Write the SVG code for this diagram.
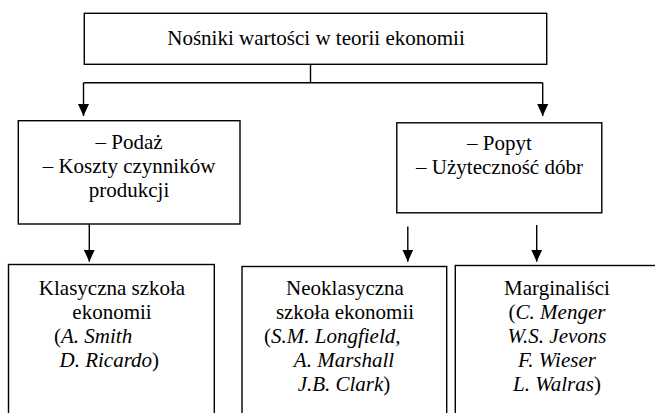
<svg xmlns="http://www.w3.org/2000/svg" width="655" height="413" viewBox="0 0 655 413">
<style>
.box{fill:#fff;stroke:#000;stroke-width:1.4}
.ln{fill:none;stroke:#000;stroke-width:1.4}
.t{font-family:'Liberation Serif','Times New Roman',Times,serif;font-size:21px;fill:#000}
.c{text-anchor:middle}
.i{font-style:italic}
</style>
<defs>
<marker id="ah" markerUnits="userSpaceOnUse" markerWidth="12" markerHeight="11" refX="12" refY="5.5" orient="auto" viewBox="0 0 12 11">
<path d="M0,0 L12,5.5 L0,11 z" fill="#000"/>
</marker>
</defs>
<g id="connectors">
<polyline class="ln" points="310.5,64 310.5,82.7"/>
<polyline class="ln" points="83.5,82.7 542.7,82.7"/>
<line class="ln" x1="83.5" y1="82.7" x2="83.5" y2="116" marker-end="url(#ah)"/>
<line class="ln" x1="542.7" y1="82.7" x2="542.7" y2="116" marker-end="url(#ah)"/>
<line class="ln" x1="89.3" y1="224" x2="89.3" y2="261.7" marker-end="url(#ah)"/>
<line class="ln" x1="407.8" y1="226.5" x2="407.8" y2="261.7" marker-end="url(#ah)"/>
<line class="ln" x1="536.7" y1="225" x2="536.7" y2="261.7" marker-end="url(#ah)"/>
</g>
<g id="n-root">
<rect class="box" x="84.3" y="13.3" width="462.4" height="51"/>
<text class="t c" x="316" y="45">Nośniki wartości w teorii ekonomii</text>
</g>
<g id="n-podaz">
<rect class="box" x="18.3" y="120.7" width="221.7" height="103.3"/>
<text class="t c" x="129" y="149">– Podaż</text>
<text class="t c" x="129" y="173">– Koszty czynników</text>
<text class="t c" x="129" y="197">produkcji</text>
</g>
<g id="n-popyt">
<rect class="box" x="396.8" y="122.8" width="205" height="90"/>
<text class="t c" x="499.5" y="150">– Popyt</text>
<text class="t c" x="499.5" y="174">– Użyteczność dóbr</text>
</g>
<g id="n-klasyczna">
<rect class="box" x="8.5" y="264.5" width="205.8" height="160"/>
<text class="t c" x="112" y="295">Klasyczna szkoła</text>
<text class="t c" x="112" y="319">ekonomii</text>
<text class="t" x="54" y="343">(<tspan class="i">A. Smith</tspan></text>
<text class="t" x="59.5" y="367"><tspan class="i">D. Ricardo</tspan>)</text>
</g>
<g id="n-neoklasyczna">
<rect class="box" x="242" y="266.5" width="204.7" height="160"/>
<text class="t c" x="345" y="295">Neoklasyczna</text>
<text class="t c" x="345" y="319">szkoła ekonomii</text>
<text class="t" x="264" y="343">(<tspan class="i">S.M. Longfield,</tspan></text>
<text class="t c" x="344" y="367"><tspan class="i">A. Marshall</tspan></text>
<text class="t c" x="344" y="391"><tspan class="i">J.B. Clark</tspan>)</text>
</g>
<g id="n-marginalisci">
<rect class="box" x="455.3" y="265.5" width="215" height="160"/>
<text class="t c" x="557" y="295">Marginaliści</text>
<text class="t c" x="557" y="319">(<tspan class="i">C. Menger</tspan></text>
<text class="t c" x="557" y="343"><tspan class="i">W.S. Jevons</tspan></text>
<text class="t c" x="557" y="367"><tspan class="i">F. Wieser</tspan></text>
<text class="t c" x="557" y="391"><tspan class="i">L. Walras</tspan>)</text>
</g>
</svg>
